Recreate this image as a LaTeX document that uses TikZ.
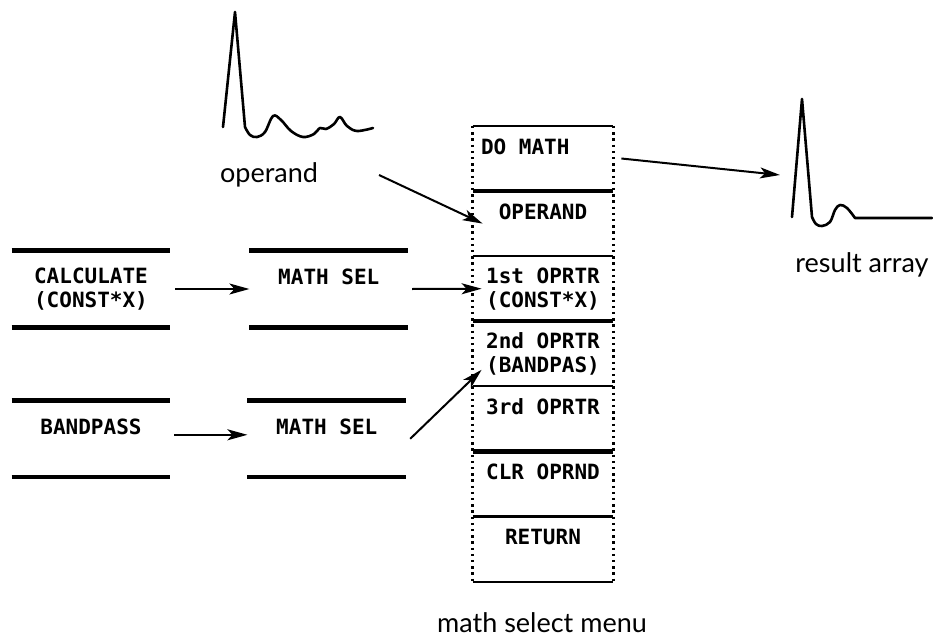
\documentclass[tikz,border=0pt]{standalone}
\usepackage{fontspec}
\setmainfont{Lato}
\setmonofont{DejaVu Sans Mono}
\usepackage{tikz}
\usetikzlibrary{arrows.meta,positioning}

\begin{document}
\begin{tikzpicture}[
	x=0.5pt,y=-0.5pt,
	>={Stealth[length=10pt,width=5.5pt,inset=2.5pt]},
	key/.style={
		minimum width=79pt,
		minimum height=38pt,
		inner sep=0pt,
		align=center,
		font=\fontsize{10.5}{12}\ttfamily\bfseries
	},
	cell/.style={
		minimum width=70pt,
		minimum height=32.15pt,
		inner sep=0pt,
		align=center,
		font=\fontsize{10.5}{12}\ttfamily\bfseries
	},
	bar/.style={line width=2.2pt},
	thin/.style={line width=1.1pt},
	lbl/.style={font=\fontsize{13.5}{15}\selectfont},
	conn/.style={->,line width=1pt},
	wave/.style={line width=1.3pt,line join=round,line cap=round}
	]
	\useasboundingbox (0,0) rectangle (933,637);
	
	% soft keys
	\node[key](calc) at (91,289){CALCULATE\\(CONST*X)};
	\node[key,right=39.5pt of calc](sel1){MATH SEL\\\mbox{}};
	\node[key,below=36.5pt of calc](band){BANDPASS\\\mbox{}};
	\node[key,right=38.5pt of band](sel2){MATH SEL\\\mbox{}};
	\foreach \n in {calc,sel1,band,sel2}
		\draw[bar] (\n.north west) -- (\n.north east) (\n.south west) -- (\n.south east);
	
	% math select menu
	\node[cell](c1) at (543,158.5){\makebox[62pt][l]{DO MATH}\\\mbox{}};
	\node[cell,below=0pt of c1](c2){OPERAND\\\mbox{}};
	\node[cell,below=0pt of c2](c3){1st OPRTR\\(CONST*X)};
	\node[cell,below=0pt of c3](c4){2nd OPRTR\\(BANDPAS)};
	\node[cell,below=0pt of c4](c5){3rd OPRTR\\\mbox{}};
	\node[cell,below=0pt of c5](c6){CLR OPRND\\\mbox{}};
	\node[cell,below=0pt of c6](c7){RETURN\\\mbox{}};
	\draw[thin] (c1.north west) -- (c1.north east);
	\foreach \n/\s in {c1/bar,c2/thin,c3/bar,c4/thin,c5/bar,c6/thin,c7/thin}
		\draw[\s] (\n.south west) -- (\n.south east);
	\draw[line width=1.2pt,dash pattern=on 1.2pt off 1.9pt] (c1.north west) -- (c7.south west);
	\draw[line width=1.2pt,dash pattern=on 1.2pt off 1.9pt] (c1.north east) -- (c7.south east);
	\node[lbl](menulbl) at (542,623){math select menu};
	
	% operand waveform
	\draw[wave] (223,127) -- (235,12) -- (245,127)
		plot[smooth,tension=0.6] coordinates {(245,127) (250,135) (257,137) (265,132) (273,116) (281,120) (291,131) (303,137) (314,134) (320,128) (326,129) (334,124) (340,117) (347,126) (357,131) (373,128)};
	\node[lbl](oplbl) at (269,175){operand};
	
	% result waveform
	\draw[wave] (792,217) -- (802,99) -- (812,217)
		plot[smooth,tension=0.6] coordinates {(812,217) (816,224) (822,226) (830,222) (835,210) (840,205) (847,208) (855,218)} -- (932,218);
	\coordinate (resin) at (780,175);
	\node[lbl](reslbl) at (862,265){result array};
	
	% connectors
	\draw[conn,shorten <=2.5pt] (calc.east) -- (sel1.west);
	\draw[conn,shorten <=2pt] ([yshift=2pt]band.east) -- ([yshift=2pt]sel2.west);
	\draw[conn] ([xshift=2pt]sel1.east) -- ([xshift=4.5pt]c3.west);
	\draw[conn] ([xshift=2pt]sel2.east) -- ([shift={(4.5pt,-8pt)}]c4.west);
	\draw[conn] ([xshift=27pt]oplbl.east) -- ([xshift=5pt]c2.west);
	\draw[conn] ([xshift=4pt]c1.east) -- (resin);
	
\end{tikzpicture}
\end{document}
